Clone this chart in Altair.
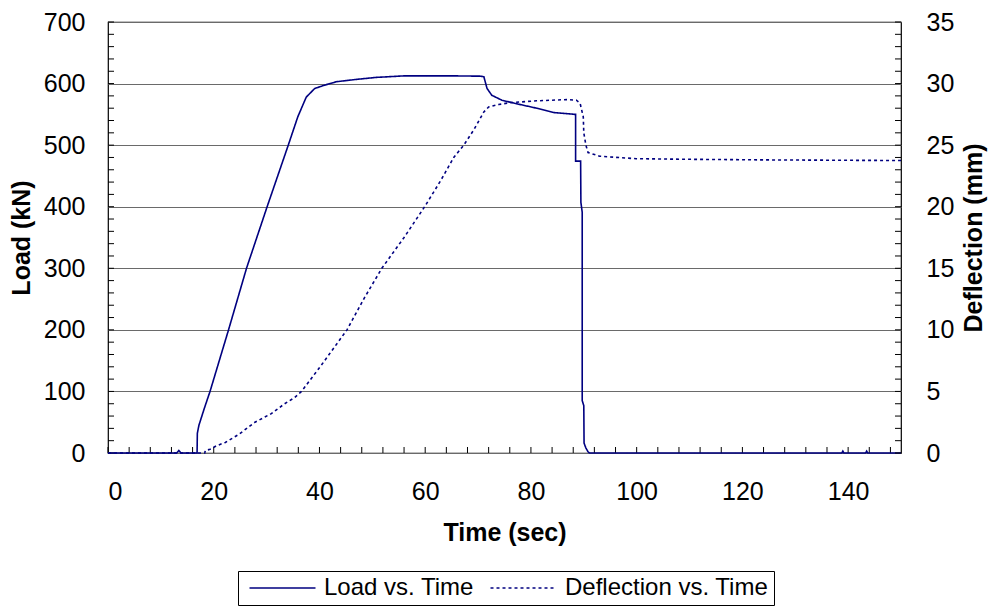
import altair as alt
import pandas as pd

# ---------------- data ----------------
load_time = [0, 13.0, 13.4, 13.8, 16.85, 16.9, 17.2, 18.2, 19.3, 22.8, 26.2, 30.1, 34.1,
             35.9, 37.5, 39.1, 41.0, 43.2, 47.2, 50.7, 56.0, 65.4, 70.5, 71.1, 71.7,
             72.6, 74.5, 77.4, 81.1, 84.3, 88.3, 88.45, 88.45, 89.4, 89.45, 89.7, 89.7,
             90.0, 90.05, 90.4, 90.8, 91.1, 138.8, 139.0, 139.2, 143.3, 143.5, 143.7, 150]
load_kn = [0, 0, 4, 0, 0, 32, 45, 72, 100, 200, 300, 400, 500,
           546, 578, 592, 597.5, 603, 607, 610, 612.5, 612.5, 612, 611, 592,
           581, 573, 567, 560, 553, 550, 550, 474, 474, 407, 391, 85,
           77, 16, 8, 2, 0, 0, 3, 0, 0, 3, 0, 0]

defl_time = [0, 18.3, 18.4, 19.3, 20.6, 22.2, 24.7, 27.8, 30.9, 33.4, 35.3, 36.6, 40.3,
             45.2, 48.5, 51.8, 56.0, 59.9, 62.9, 65.4, 67.3, 69.2, 71.1, 72.0, 73.9,
             76.1, 81.1, 86.8, 88.6, 89.3, 89.9, 90.0, 90.4, 90.8, 93.0, 99.9, 110, 125, 150]
defl_mm = [0, 0, 0.2, 0.3, 0.6, 0.86, 1.5, 2.5, 3.2, 4.0, 4.5, 5.0, 7.1,
           10.0, 12.6, 15.0, 17.5, 20.0, 22.1, 24.0, 25.0, 26.25, 27.7, 28.1, 28.3,
           28.45, 28.6, 28.7, 28.65, 28.4, 27.3, 26.0, 25.0, 24.4, 24.1, 23.9, 23.85, 23.8, 23.75]

series_names = ["Load vs. Time", "Deflection vs. Time"]

x_labels = [0, 20, 40, 60, 80, 100, 120, 140]
x_ticks = list(range(0, 151, 4))
load_labels = [0, 100, 200, 300, 400, 500, 600, 700]
load_ticks = list(range(0, 701, 20))
defl_labels = [0, 5, 10, 15, 20, 25, 30, 35]
defl_ticks = list(range(0, 36, 1))

# ---------------- tables ----------------
load_df = pd.DataFrame({"t": load_time, "v": load_kn, "series": series_names[0],
                        "i": list(range(len(load_time)))})
defl_df = pd.DataFrame({"t": defl_time, "v": defl_mm, "series": series_names[1],
                        "i": list(range(len(defl_time)))})
xtick_df = pd.DataFrame({"t": x_ticks})
ltick_df = pd.DataFrame({"v": load_ticks})
dtick_df = pd.DataFrame({"v": defl_ticks})

W, H = 793, 431
FONT = "Liberation Sans"
NAVY = "#000080"
FS = 25

xscale = alt.Scale(domain=[0, 150], nice=False, zero=False)
yl_scale = alt.Scale(domain=[0, 700], nice=False)
yr_scale = alt.Scale(domain=[0, 35], nice=False)

x_axis = alt.Axis(values=x_labels, ticks=False, domain=False, grid=False,
                  labelPadding=26, labelFont=FONT, labelFontSize=FS, labelColor="black",
                  title="Time (sec)", titleFont=FONT, titleFontSize=FS, titleFontWeight="bold",
                  titleColor="black", titlePadding=16)
yl_axis = alt.Axis(values=load_labels, ticks=False, domain=False, grid=True,
                   gridColor="#6a6a6a", gridWidth=1.2,
                   labelPadding=23, labelFont=FONT, labelFontSize=FS, labelColor="black",
                   title="Load (kN)", titleFont=FONT, titleFontSize=FS, titleFontWeight="bold",
                   titleColor="black", titlePadding=9)
yr_axis = alt.Axis(values=defl_labels, ticks=False, domain=False, grid=False, orient="right",
                   labelPadding=25, labelFont=FONT, labelFontSize=FS, labelColor="black",
                   title="Deflection (mm)", titleFont=FONT, titleFontSize=FS,
                   titleFontWeight="bold", titleColor="black", titlePadding=8,
                   titleAngle=270, titleBaseline="top")

color_scale = alt.Scale(domain=series_names, range=[NAVY, NAVY])
dash_scale = alt.Scale(domain=series_names, range=[[1, 0], [3, 3]])

X = alt.X("t:Q", scale=xscale, axis=x_axis)

load_line = alt.Chart(load_df).mark_line(strokeWidth=1.6, interpolate="linear").encode(
    x=X,
    y=alt.Y("v:Q", scale=yl_scale, axis=yl_axis),
    order=alt.Order("i:Q"),
    color=alt.Color("series:N", scale=color_scale, title=None),
    strokeDash=alt.StrokeDash("series:N", scale=dash_scale, title=None),
)

x_tick_marks = alt.Chart(xtick_df).mark_rule(color="black", strokeWidth=1).encode(
    x=X, y=alt.value(H), y2=alt.value(H - 6))

left_tick_marks = alt.Chart(ltick_df).mark_rule(color="black", strokeWidth=1).encode(
    y=alt.Y("v:Q", scale=yl_scale, axis=yl_axis), x=alt.value(0), x2=alt.value(6))

defl_line = alt.Chart(defl_df).mark_line(strokeWidth=1.6).encode(
    x=X,
    y=alt.Y("v:Q", scale=yr_scale, axis=yr_axis),
    order=alt.Order("i:Q"),
    color=alt.Color("series:N", scale=color_scale, title=None),
    strokeDash=alt.StrokeDash("series:N", scale=dash_scale, title=None),
)

right_tick_marks = alt.Chart(dtick_df).mark_rule(color="black", strokeWidth=1).encode(
    y=alt.Y("v:Q", scale=yr_scale, axis=yr_axis), x=alt.value(W), x2=alt.value(W - 6))

left_layer = alt.layer(left_tick_marks, x_tick_marks, load_line)
right_layer = alt.layer(right_tick_marks, defl_line)

chart = alt.layer(left_layer, right_layer).resolve_scale(y="independent").properties(
    width=W, height=H, background="white",
    autosize=alt.AutoSizeParams(type="none"),
    padding={"left": 100, "top": 14, "right": 87, "bottom": 153},
).configure_view(stroke="black", strokeWidth=1.2).configure_legend(
    orient="none", legendX=130, legendY=549, direction="horizontal",
    strokeColor="black", padding=5, labelFont=FONT, labelFontSize=24, labelColor="black",
    symbolType="M-0.5,0H5.5", symbolSize=484, symbolStrokeWidth=1.6, labelOffset=57,
    columnPadding=10, labelLimit=400,
)

chart.save("out.html", embed_options={"renderer": "svg", "actions": False})
